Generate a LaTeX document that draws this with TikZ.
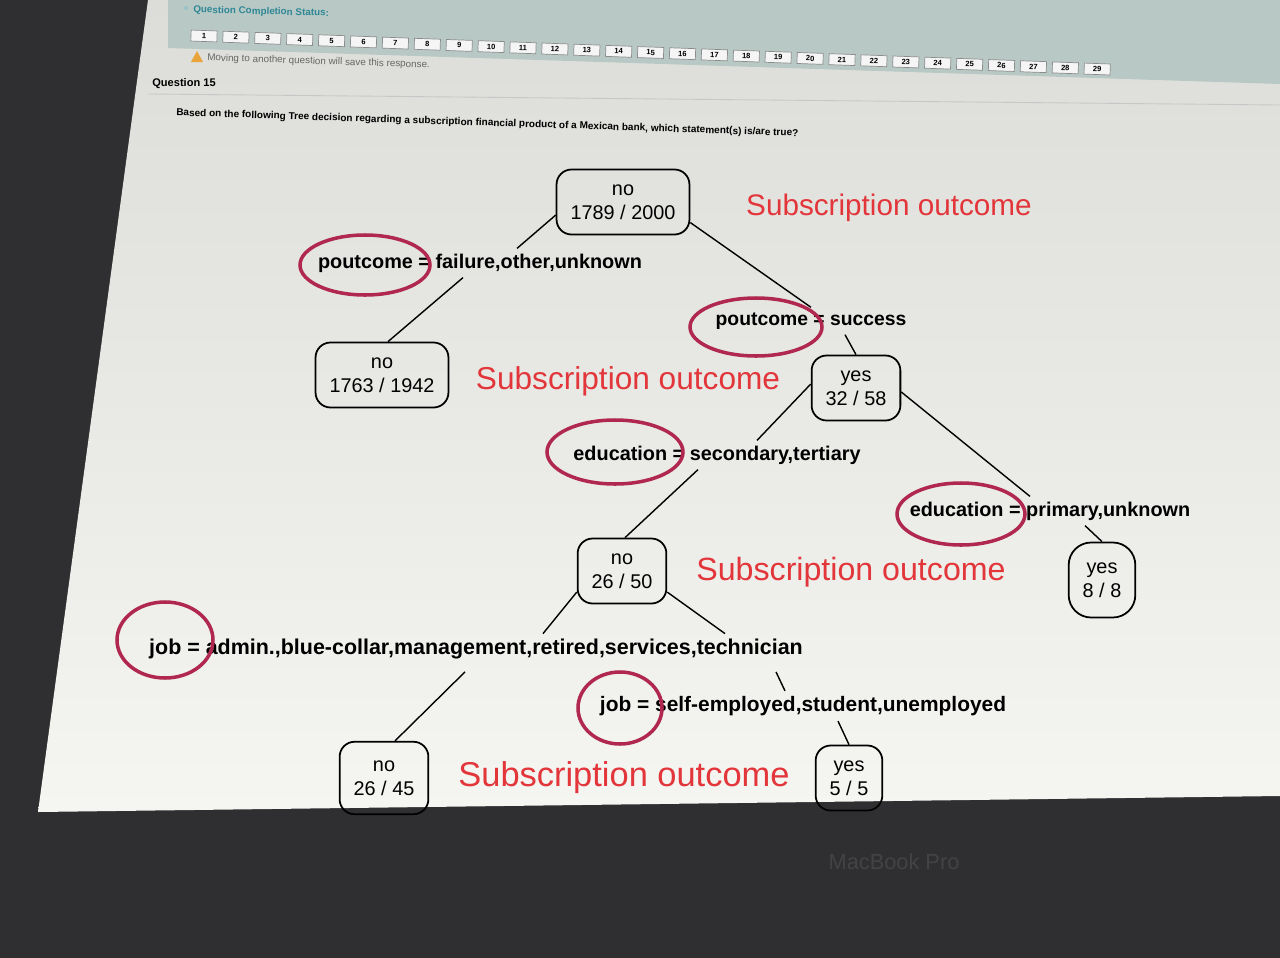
\documentclass[tikz,border=0pt]{standalone}
\usepackage{fontspec}
\setmainfont{Liberation Sans}
\usepackage{xcolor}
\usetikzlibrary{positioning}
\definecolor{bezel}{HTML}{2F2F31}
\definecolor{bezeltext}{HTML}{434346}
\definecolor{scrtop}{HTML}{DCDDD9}
\definecolor{scrmid}{HTML}{EFEFEC}
\definecolor{scrbot}{HTML}{F5F5F2}
\definecolor{panel}{HTML}{B8C9C5}
\definecolor{qteal}{HTML}{2F8796}
\definecolor{circ}{HTML}{B0284F}
\definecolor{outred}{HTML}{E2363B}
\definecolor{warn}{HTML}{E8A33A}

\begin{document}
\begin{tikzpicture}[x=0.2mm,y=-0.2mm,
  leaf/.style={draw,line width=1pt,rounded corners=3mm,align=center,font={\fontsize{11.3}{13.6}\selectfont},minimum height=13mm,inner xsep=2.8mm,inner ysep=1mm},
  split/.style={font={\fontsize{#1}{14}\selectfont\bfseries},inner sep=1mm},
  split/.default=11.3,
  edge/.style={line width=0.8pt},
  ring/.style={draw=circ,line width=2pt},
  outc/.style={text=outred,font={\fontsize{#1}{20}\selectfont}},
  numbox/.style={draw=black!45,fill=black!4,minimum width=5.2mm,minimum height=2.2mm,inner sep=0pt,font={\fontsize{4.3}{5}\selectfont\bfseries},rotate=-2},
  hdr/.style={anchor=west,inner sep=0pt}]
\useasboundingbox (0,0) rectangle (1280,958);
% laptop and screen
\fill[bezel] (0,0) rectangle (1280,958);
\shade[top color=scrtop,middle color=scrmid,bottom color=scrbot] (148,0) -- (1280,0) -- (1280,796) -- (38,812) -- cycle;
\node[text=bezeltext,font={\fontsize{12.4}{14}\selectfont}] (mbp) at (894,862) {MacBook Pro};
% header of the page
\fill[panel] (168,0) -- (1280,0) -- (1280,84) -- (168,48) -- cycle;
\fill[qteal!50] (186,8) circle (2);
\node[hdr,text=qteal,font={\fontsize{5.6}{7}\selectfont\bfseries},rotate=-1.5] (qcs) at (193,10) {Question Completion Status:};
\foreach \i in {1,...,29}
  \node[numbox] (b\i) at ({204+31.9*(\i-1)},{36+1.18*(\i-1)}) {\i};
\fill[warn] (191,62) -- (203,62) -- (197,51) -- cycle;
\node[hdr,text=black!60,font={\fontsize{5.6}{7}\selectfont},rotate=-1.9] (mv) at (207,58) {Moving to another question will save this response.};
\node[hdr,font={\fontsize{6.3}{8}\selectfont\bfseries}] (q15) at (152,84) {Question 15};
\draw[black!22,line width=0.5pt] (148,94) -- (1280,105);
\node[hdr,font={\fontsize{5.7}{7}\selectfont\bfseries},rotate=-1.9] (qtxt) at (176,113) {Based on the following Tree decision regarding a subscription financial product of a Mexican bank, which statement(s) is/are true?};
% tree nodes
\node[leaf] (root)  at (623,202)  {no\\1789 / 2000};
\node[leaf] (lf1)   at (382,375)  {no\\1763 / 1942};
\node[leaf] (y32)   at (856,388)  {yes\\32 / 58};
\node[leaf] (n26)   at (622,571)  {no\\26 / 50};
\node[leaf,minimum height=15mm,rounded corners=4.5mm] (y8) at (1102,580) {yes\\8 / 8};
\node[leaf,minimum height=14.5mm] (n2645) at (384,778) {no\\26 / 45};
\node[leaf] (y5)    at (849,778)  {yes\\5 / 5};
% split labels
\node[split]      (pf) at (480,263)  {poutcome = failure,other,unknown};
\node[split=11.0] (ps) at (811,321)  {poutcome = success};
\node[split]      (es) at (717,455)  {education = secondary,tertiary};
\node[split]      (ep) at (1050,511) {education = primary,unknown};
\node[split=12.2] (jl) at (476,649)  {job = admin.,blue-collar,management,retired,services,technician};
\node[split=11.9] (js) at (803,706)  {job = self-employed,student,unemployed};
% outcome notes
\node[outc=16.9] (o1) at (889,208) {Subscription outcome};
\node[outc=18.0] (o2) at (628,381) {Subscription outcome};
\node[outc=18.3] (o3) at (851,572) {Subscription outcome};
\node[outc=19.6] (o4) at (624,778) {Subscription outcome};
% edges
\draw[edge] (root.191) -- ([xshift=7.4mm]pf.north);
\draw[edge] ([xshift=-3.4mm]pf.south) -- ([xshift=1.2mm]lf1.north);
\draw[edge] (root.343) -- (ps.north);
\draw[edge] ([xshift=6.8mm]ps.south) -- (y32.north);
\draw[edge] (y32.175) -- ([xshift=8mm]es.north);
\draw[edge] ([xshift=-3.8mm]es.south) -- ([xshift=0.6mm]n26.north);
\draw[edge] (y32.355) -- ([xshift=-4mm]ep.north);
\draw[edge] ([xshift=7mm]ep.south) -- (y8.north);
\draw[edge] (n26.205) -- ([xshift=13.4mm]jl.north);
\draw[edge] (n26.335) -- ([xshift=49.8mm]jl.north);
\draw[edge] ([xshift=-2.2mm,yshift=-1.5mm]jl.south) -- ([xshift=2.2mm]n2645.north);
\draw[edge] ([xshift=60mm,yshift=-1.5mm]jl.south) -- ([xshift=-3.6mm]js.north);
\draw[edge] ([xshift=7mm]js.south) -- (y5.north);
% hand-drawn rings
\draw[ring] (365,265) ellipse (65 and 30);
\draw[ring] (756,327) ellipse (66 and 29);
\draw[ring] (615,452) ellipse (68 and 32);
\draw[ring] (961,514) ellipse (64 and 31);
\draw[ring] (165,640) ellipse (48 and 38);
\draw[ring] (620,708) ellipse (42 and 36);
\end{tikzpicture}
\end{document}
